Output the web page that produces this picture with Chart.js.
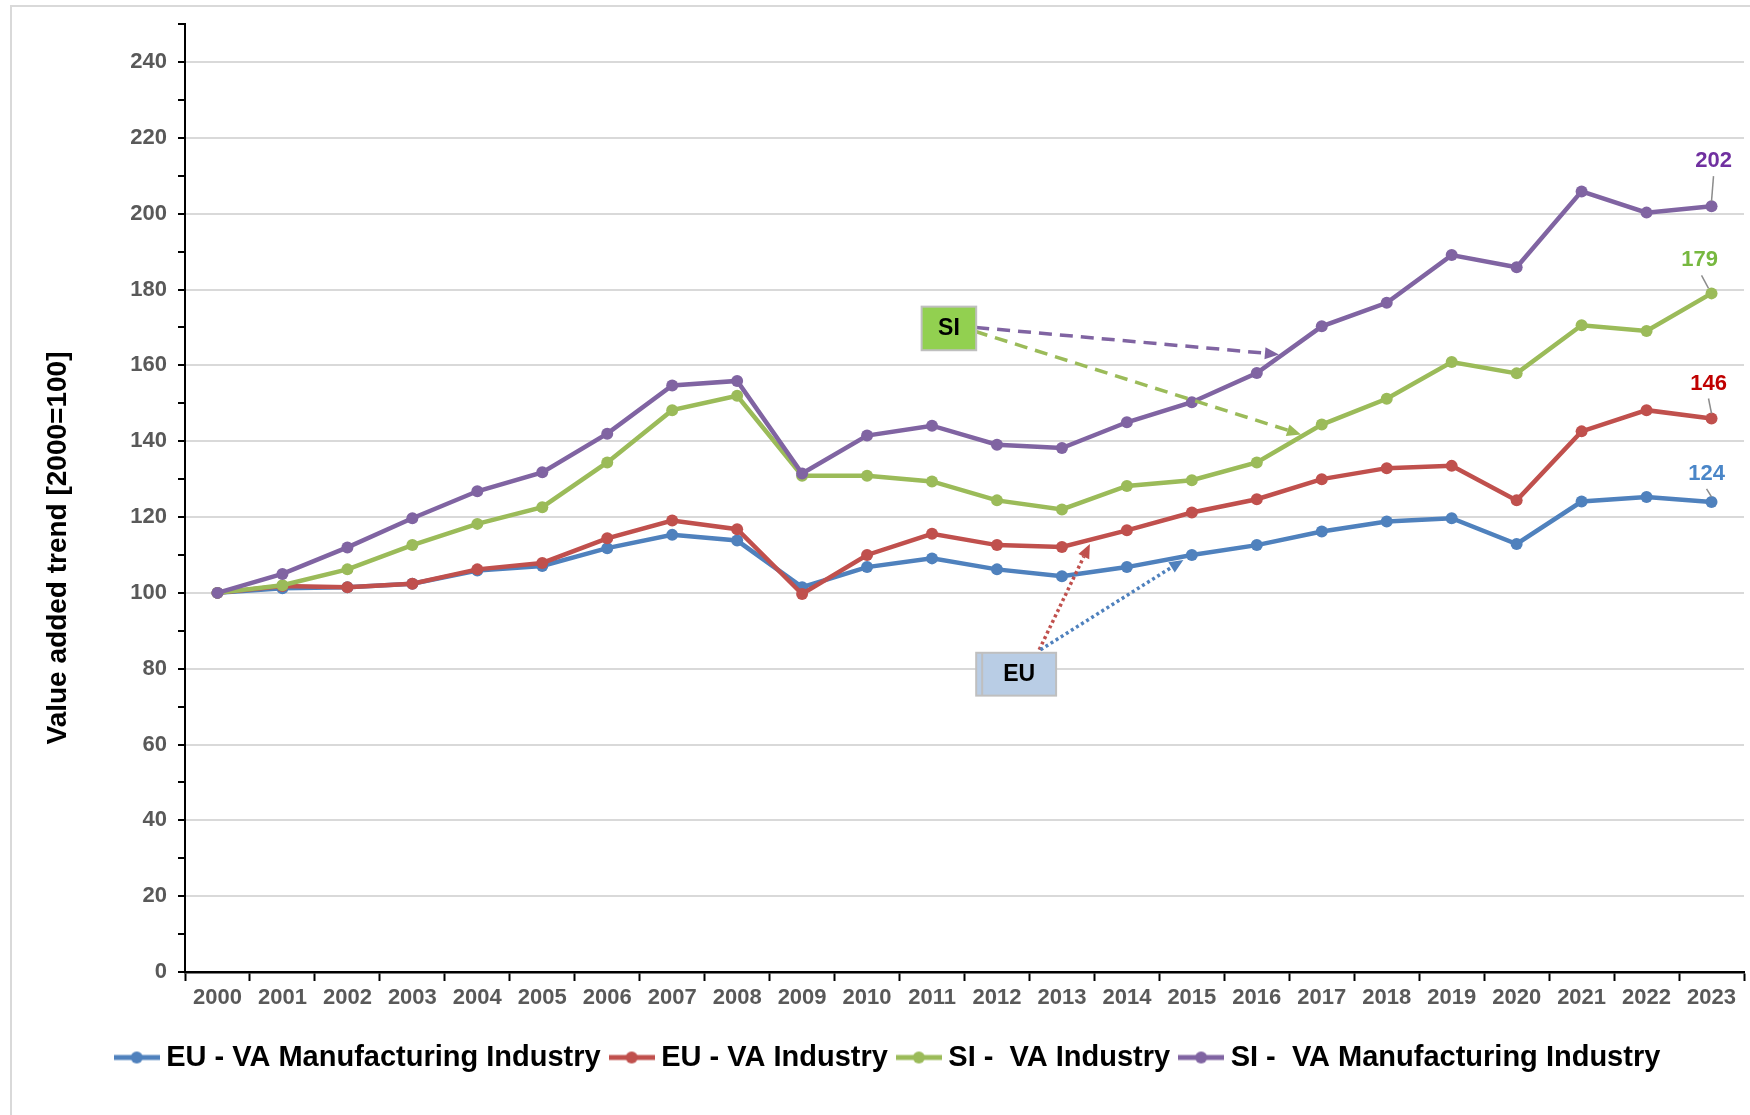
<!DOCTYPE html>
<html>
<head>
<meta charset="utf-8">
<script src="https://cdn.jsdelivr.net/npm/chart.js@4.4.1/dist/chart.umd.min.js"></script>
<style>
  html, body { margin: 0; padding: 0; background: #fff; }
</style>
</head>
<body>
<canvas id="chart" width="1750" height="1115"></canvas>
<script>
const years = ['2000','2001','2002','2003','2004','2005','2006','2007','2008','2009','2010','2011',
               '2012','2013','2014','2015','2016','2017','2018','2019','2020','2021','2022','2023'];
const euManufacturing = [100,101.2,101.5,102.4,105.9,107.1,111.8,115.3,113.8,101.5,106.8,109.1,
                         106.2,104.4,106.8,110,112.6,116.2,118.8,119.7,112.9,124.1,125.3,124];
const euIndustry = [100,101.8,101.5,102.4,106.2,107.9,114.4,119.1,116.8,99.7,110,115.6,
                    112.6,112.1,116.5,121.2,124.7,130,132.9,133.5,124.4,142.6,148.2,146];
const siIndustry = [100,102,106.2,112.6,118.2,122.6,134.4,148.2,152,130.9,130.9,129.4,
                    124.4,122,128.2,129.7,134.4,144.4,151.2,160.9,157.9,170.6,169.1,179];
const siManufacturing = [100,105,112,119.7,126.8,131.8,142,154.7,155.9,131.5,141.5,144.1,
                         139.1,138.2,145,150.3,158,170.3,176.5,189.1,185.9,205.9,200.3,202];
const seriesNames = ['EU - VA Manufacturing Industry', 'EU - VA Industry', 'SI -  VA Industry', 'SI -  VA Manufacturing Industry'];
const endLabelText = ['124', '146', '179', '202'];

const FONT = "'Liberation Sans', Arial, sans-serif";
const colors = ['#4f81bd', '#c0504d', '#9bbb59', '#8064a2'];
const labelColors = ['#4a86c8', '#c00000', '#77b83f', '#7030a0'];

function markerIcon(color) {
  const c = document.createElement('canvas');
  c.width = 46; c.height = 14;
  const g = c.getContext('2d');
  g.strokeStyle = color; g.lineWidth = 5;
  g.beginPath(); g.moveTo(0, 7); g.lineTo(46, 7); g.stroke();
  g.fillStyle = color;
  g.beginPath(); g.arc(23, 7, 6, 0, Math.PI * 2); g.fill();
  return c;
}

function makeSet(i, data, order) {
  return {
    label: seriesNames[i],
    data: data,
    borderColor: colors[i],
    backgroundColor: colors[i],
    borderWidth: 4.5,
    pointRadius: 6,
    pointBorderWidth: 0,
    pointHoverRadius: 6,
    tension: 0,
    order: order
  };
}

// label offsets relative to the last point (px)
const endLabelPos = [
  { dx: -5, dy: -28 },
  { dx: -3, dy: -35 },
  { dx: -12, dy: -33 },
  { dx: 2, dy: -45 }
];

// annotation boxes and arrows, in (category index, value) terms
const boxes = [
  { text: 'SI', x0: 10.84, x1: 11.68, y0: 175.5, y1: 164, fill: '#92d050' },
  { text: 'EU', x0: 11.68, x1: 12.91, y0: 84.2, y1: 72.9, fill: '#b9cde5', inner: true }
];
const arrows = [
  { from: [11.68, 170], to: [16.34, 162.9], color: '#8064a2', dash: [13, 8] },
  { from: [11.66, 169], to: [16.68, 141.8], color: '#9bbb59', dash: [13, 8] },
  { from: [12.65, 85], to: [13.43, 112.9], color: '#c0504d', dash: [3, 3] },
  { from: [12.67, 85], to: [14.87, 108.7], color: '#4f81bd', dash: [3, 3] }
];

const frame = {
  id: 'frame',
  afterUpdate(chart) {
    // legend row sits a little right of centre in the original
    chart.legend.left += 14;
    chart.legend.right += 14;
  },
  beforeDraw(chart) {
    const ctx = chart.ctx;
    ctx.save();
    ctx.fillStyle = '#fff';
    ctx.fillRect(0, 0, chart.width, chart.height);
    ctx.strokeStyle = '#d9d9d9';
    ctx.lineWidth = 2;
    ctx.strokeRect(11, 6, chart.width + 20, chart.height + 20);
    // y axis title
    ctx.translate(58, 548);
    ctx.rotate(-Math.PI / 2);
    ctx.fillStyle = '#000';
    ctx.font = 'bold 28px ' + FONT;
    ctx.textAlign = 'center';
    ctx.textBaseline = 'middle';
    ctx.fillText('Value added trend [2000=100]', 0, 0);
    ctx.restore();
  }
};

const extras = {
  id: 'extras',
  afterDatasetsDraw(chart) {
    const ctx = chart.ctx;
    const xs = chart.scales.x, ys = chart.scales.y;
    const px = (i) => xs.getPixelForValue(0) + i * (xs.getPixelForValue(1) - xs.getPixelForValue(0));
    ctx.save();
    // arrows
    arrows.forEach(a => {
      const x0 = px(a.from[0]), y0 = ys.getPixelForValue(a.from[1]);
      const x1 = px(a.to[0]), y1 = ys.getPixelForValue(a.to[1]);
      const ang = Math.atan2(y1 - y0, x1 - x0);
      const hl = 14;
      ctx.strokeStyle = a.color;
      ctx.lineWidth = 3.5;
      ctx.setLineDash(a.dash);
      ctx.beginPath();
      ctx.moveTo(x0, y0);
      ctx.lineTo(x1 - hl * Math.cos(ang), y1 - hl * Math.sin(ang));
      ctx.stroke();
      ctx.setLineDash([]);
      ctx.fillStyle = a.color;
      ctx.beginPath();
      ctx.moveTo(x1, y1);
      ctx.lineTo(x1 - hl * Math.cos(ang) + 6 * Math.sin(ang), y1 - hl * Math.sin(ang) - 6 * Math.cos(ang));
      ctx.lineTo(x1 - hl * Math.cos(ang) - 6 * Math.sin(ang), y1 - hl * Math.sin(ang) + 6 * Math.cos(ang));
      ctx.closePath();
      ctx.fill();
    });
    // boxes
    boxes.forEach(b => {
      const x0 = px(b.x0), x1 = px(b.x1);
      const y0 = ys.getPixelForValue(b.y0), y1 = ys.getPixelForValue(b.y1);
      ctx.fillStyle = b.fill;
      ctx.fillRect(x0, y0, x1 - x0, y1 - y0);
      ctx.strokeStyle = '#bfbfbf';
      ctx.lineWidth = 2;
      ctx.strokeRect(x0, y0, x1 - x0, y1 - y0);
      if (b.inner) {
        ctx.beginPath();
        ctx.moveTo(x0 + 6, y0); ctx.lineTo(x0 + 6, y1);
        ctx.stroke();
      }
      ctx.fillStyle = '#000';
      ctx.font = 'bold 23px ' + FONT;
      ctx.textAlign = 'center';
      ctx.textBaseline = 'middle';
      ctx.fillText(b.text, (x0 + x1) / 2 + (b.inner ? 3 : 0), (y0 + y1) / 2);
    });
    // end labels with leader lines
    chart.data.datasets.forEach((ds, i) => {
      const meta = chart.getDatasetMeta(i);
      const pt = meta.data[meta.data.length - 1];
      const lx = pt.x + endLabelPos[i].dx, ly = pt.y + endLabelPos[i].dy;
      ctx.strokeStyle = '#8c8c8c';
      ctx.lineWidth = 1.5;
      ctx.beginPath();
      ctx.moveTo(lx + (endLabelPos[i].dx < -6 ? 2 : 0), ly + 15);
      ctx.lineTo(pt.x - (endLabelPos[i].dx < -6 ? 3 : 0), pt.y - 5);
      ctx.stroke();
      ctx.fillStyle = labelColors[i];
      ctx.font = 'bold 22px ' + FONT;
      ctx.textAlign = 'center';
      ctx.textBaseline = 'middle';
      ctx.fillText(endLabelText[i], lx, ly);
    });
    ctx.restore();
  }
};

new Chart(document.getElementById('chart'), {
  type: 'line',
  data: {
    labels: years,
    datasets: [
      makeSet(0, euManufacturing, 3),
      makeSet(1, euIndustry, 2),
      makeSet(2, siIndustry, 1),
      makeSet(3, siManufacturing, 0)
    ]
  },
  options: {
    responsive: false,
    animation: false,
    layout: { padding: { left: 0, top: 22, right: -4, bottom: 33 } },
    plugins: {
      title: { display: false },
      tooltip: { enabled: false },
      legend: {
        position: 'bottom',
        labels: {
          usePointStyle: true,
          pointStyleWidth: 30,
          boxHeight: 14,
          padding: 16,
          color: '#000',
          font: { family: FONT, size: 29, weight: 'bold' },
          generateLabels: (chart) => chart.data.datasets.map((ds, i) => ({
            text: ds.label,
            pointStyle: markerIcon(ds.borderColor),
            fillStyle: ds.borderColor,
            strokeStyle: ds.borderColor,
            lineWidth: 0,
            fontColor: '#000',
            hidden: false,
            datasetIndex: i
          }))
        }
      }
    },
    scales: {
      x: {
        offset: true,
        afterFit(scale) { scale.height = 55; },
        border: { color: '#000', width: 2.5 },
        grid: { offset: true, drawOnChartArea: false, tickColor: '#000', tickLength: 9, tickWidth: 2 },
        ticks: {
          color: '#595959',
          padding: 4,
          maxRotation: 0,
          autoSkip: false,
          font: { family: FONT, size: 22, weight: 'bold' }
        }
      },
      y: {
        min: 0,
        max: 250,
        afterFit(scale) { scale.width = 185; },
        border: { color: '#000', width: 2 },
        grid: {
          color: (ctx) => (ctx.tick && ctx.tick.value > 0 && ctx.tick.value % 20 === 0) ? '#d9d9d9' : 'rgba(0,0,0,0)',
          lineWidth: 2,
          tickColor: '#000',
          tickLength: 7,
          tickWidth: 2
        },
        ticks: {
          stepSize: 10,
          padding: 11,
          color: '#595959',
          font: { family: FONT, size: 22, weight: 'bold' },
          callback: (v) => (v % 20 === 0 && v <= 240) ? v : ''
        }
      }
    }
  },
  plugins: [frame, extras]
});
</script>
</body>
</html>
